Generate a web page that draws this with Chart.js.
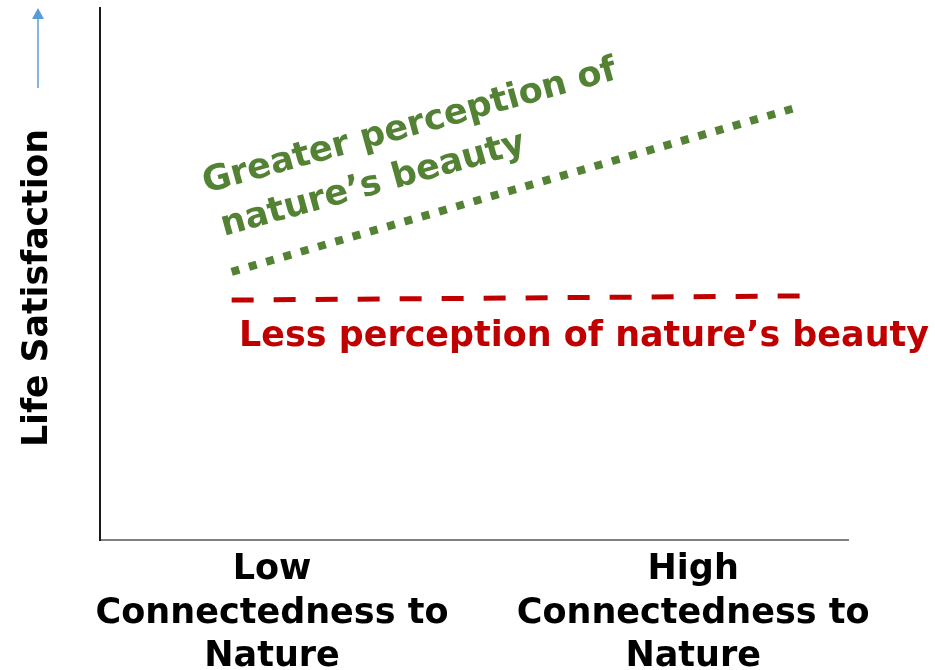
<!DOCTYPE html>
<html>
<head>
<meta charset="utf-8">
<script src="https://cdn.jsdelivr.net/npm/chart.js@4.4.1/dist/chart.umd.min.js"></script>
<style>
  html, body { margin: 0; padding: 0; background: #fff; }
  #wrap { width: 935px; height: 670px; }
</style>
</head>
<body>
<div id="wrap"><canvas id="chart"></canvas></div>
<script>
// x runs 0..100 along the connectedness axis, y 0..100 life satisfaction
const xTickPos = [23.0, 79.3];
const xTickLabels = [
  ["Low", "Connectedness to", "Nature"],
  ["High", "Connectedness to", "Nature"]
];
const greaterX = [17.6, 92.9];
const greaterY = [50.4, 81.2];
const lessX = [17.6, 95.6];
const lessY = [45.1, 45.9];

const greenCol = "#548235";
const redCol = "#c00000";

// axis title, labels on the lines + the little blue arrow
const noteText = {
  id: "noteText",
  afterDraw(chart) {
    const ctx = chart.ctx;
    const ang = -15.5 * Math.PI / 180;
    ctx.save();
    ctx.textBaseline = "alphabetic";

    // y title (drawn here so it can sit a bit below the middle)
    ctx.save();
    ctx.font = 'bold 36px "DejaVu Sans"';
    ctx.fillStyle = "#000";
    ctx.textAlign = "center";
    ctx.textBaseline = "middle";
    ctx.translate(38, 288);
    ctx.rotate(-Math.PI / 2);
    ctx.fillText("Life Satisfaction", 0, 0, 318);
    ctx.restore();

    ctx.font = 'bold 35px "DejaVu Sans"';
    ctx.fillStyle = greenCol;
    ctx.save();
    ctx.translate(206, 193);
    ctx.rotate(ang);
    ctx.fillText("Greater perception of", 0, 0);
    ctx.restore();
    ctx.save();
    ctx.translate(224, 236);
    ctx.rotate(ang);
    ctx.fillText("nature\u2019s beauty", 0, 0);
    ctx.restore();

    ctx.fillStyle = redCol;
    ctx.fillText("Less perception of nature\u2019s beauty", 239, 346, 690);

    // arrow
    ctx.strokeStyle = "#5b9bd5";
    ctx.fillStyle = "#5b9bd5";
    ctx.lineWidth = 1.5;
    ctx.beginPath();
    ctx.moveTo(38, 88);
    ctx.lineTo(38, 17);
    ctx.stroke();
    ctx.beginPath();
    ctx.moveTo(38, 8);
    ctx.lineTo(32, 19);
    ctx.lineTo(44, 19);
    ctx.closePath();
    ctx.fill();
    ctx.restore();
  }
};

const ctx = document.getElementById("chart");

new Chart(ctx, {
  type: "line",
  data: {
    datasets: [
      {
        label: "Greater perception of nature's beauty",
        data: greaterX.map((x, i) => ({ x: x, y: greaterY[i] })),
        borderColor: greenCol,
        borderWidth: 8,
        borderDash: [8, 10],
        borderCapStyle: "butt",
        pointRadius: 0
      },
      {
        label: "Less perception of nature's beauty",
        data: lessX.map((x, i) => ({ x: x, y: lessY[i] })),
        borderColor: redCol,
        borderWidth: 5,
        borderDash: [22, 20],
        borderCapStyle: "butt",
        pointRadius: 0
      }
    ]
  },
  options: {
    responsive: true,
    maintainAspectRatio: false,
    animation: false,
    layout: { padding: { top: 8, right: 87, left: 0, bottom: 0 } },
    plugins: {
      legend: { display: false },
      tooltip: { enabled: false }
    },
    scales: {
      x: {
        type: "linear",
        min: 0,
        max: 100,
        afterFit: s => { s.height = 130; },
        afterBuildTicks: s => { s.ticks = xTickPos.map(v => ({ value: v })); },
        grid: { display: false, drawTicks: false },
        border: { display: true, color: "#808080", width: 2 },
        ticks: {
          padding: 8,
          maxRotation: 0,
          autoSkip: false,
          color: "#000",
          font: { family: "DejaVu Sans", size: 35, weight: "bold", lineHeight: 1.25 },
          callback: (v, i) => xTickLabels[i]
        }
      },
      y: {
        min: 0,
        max: 100,
        afterFit: s => { s.width = 100; },
        grid: { display: false, drawTicks: false },
        border: { display: true, color: "#1a1a1a", width: 2 },
        ticks: { display: false }
      }
    }
  },
  plugins: [noteText]
});
</script>
</body>
</html>
